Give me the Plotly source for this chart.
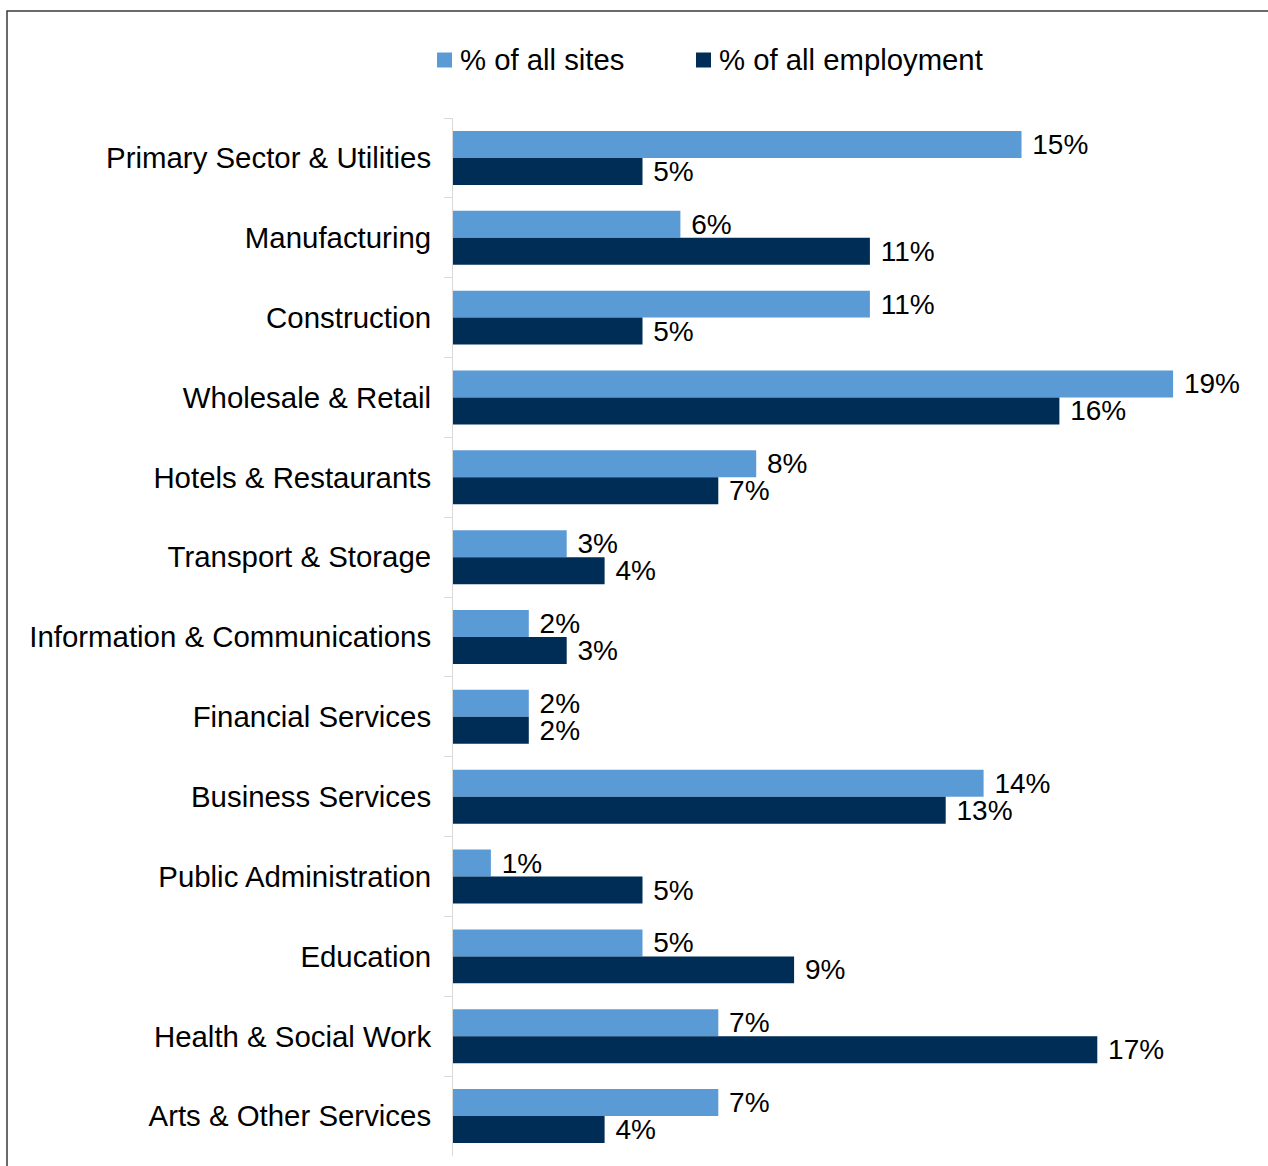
import plotly.graph_objects as go

# Sector breakdown: share of sites vs share of employment (%)
sectors = [
    "Primary Sector & Utilities",
    "Manufacturing",
    "Construction",
    "Wholesale & Retail",
    "Hotels & Restaurants",
    "Transport & Storage",
    "Information & Communications",
    "Financial Services",
    "Business Services",
    "Public Administration",
    "Education",
    "Health & Social Work",
    "Arts & Other Services",
]
pct_sites = [15, 6, 11, 19, 8, 3, 2, 2, 14, 1, 5, 7, 7]
pct_employment = [5, 11, 5, 16, 7, 4, 3, 2, 13, 5, 9, 17, 4]

series_names = ["% of all sites", "% of all employment"]
series_colors = ["#5B9BD5", "#002D56"]

W, H = 1268, 1166
L, R, T, B = 453, 18, 118, 10
plot_w = W - L - R
plot_h = H - T - B


def px_x(x):
    return (x - L) / plot_w


def px_y(y):
    return (H - B - y) / plot_h


FONT = "Liberation Sans, Arial, sans-serif"

fig = go.Figure()
for name, vals, col in zip(series_names, [pct_sites, pct_employment], series_colors):
    fig.add_trace(go.Bar(
        y=sectors,
        x=vals,
        name=name,
        orientation="h",
        marker=dict(color=col, line=dict(width=0)),
        text=[f" {v}%" for v in vals],
        textposition="outside",
        textfont=dict(family=FONT, size=28, color="#000000"),
        constraintext="none",
        cliponaxis=False,
        showlegend=False,
    ))

# Legend row across the top: square swatch followed by the series name
legend_swatch_left = [437, 696]
legend_y = 60
swatch = 15
shapes = []
annotations = []
for name, col, sx in zip(series_names, series_colors, legend_swatch_left):
    shapes.append(dict(
        type="rect", xref="paper", yref="paper",
        x0=px_x(sx), x1=px_x(sx + swatch),
        y0=px_y(legend_y + swatch / 2), y1=px_y(legend_y - swatch / 2),
        fillcolor=col, line=dict(width=0),
    ))
    annotations.append(dict(
        xref="paper", yref="paper",
        x=px_x(sx + swatch + 6), y=px_y(legend_y),
        xanchor="left", yanchor="middle",
        text=name, showarrow=False,
        font=dict(family=FONT, size=29.3, color="#000000"),
    ))

# Outer chart frame
shapes.append(dict(
    type="rect",
    xref="paper", yref="paper",
    x0=px_x(7), x1=px_x(W + 20),
    y0=px_y(H + 20), y1=px_y(11),
    line=dict(color="#3A3A3A", width=1.5),
    fillcolor="rgba(0,0,0,0)",
    layer="below",
))

fig.update_layout(
    width=W,
    height=H,
    margin=dict(l=L, r=R, t=T, b=B, pad=0),
    paper_bgcolor="white",
    plot_bgcolor="white",
    barmode="group",
    bargap=0.324,
    bargroupgap=0,
    font=dict(family=FONT, size=29, color="#000000"),
    showlegend=False,
    xaxis=dict(
        range=[0, plot_w / 37.9],
        showgrid=False,
        zeroline=False,
        showticklabels=False,
        showline=False,
        ticks="",
        fixedrange=True,
    ),
    yaxis=dict(
        type="category",
        autorange="reversed",
        showline=True,
        linecolor="#D9D9D9",
        linewidth=1,
        ticks="outside",
        tickson="boundaries",
        ticklen=8,
        tickcolor="#D9D9D9",
        tickwidth=1,
        showgrid=False,
        zeroline=False,
        ticklabelstandoff=15,
        tickfont=dict(family=FONT, size=29.4, color="#000000"),
    ),
    shapes=shapes,
    annotations=annotations,
)

fig.write_html("out.html")
